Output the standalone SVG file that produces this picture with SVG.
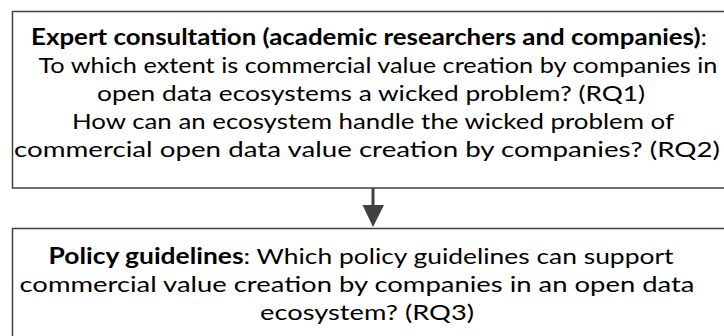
<svg xmlns="http://www.w3.org/2000/svg" width="724" height="336" viewBox="0 0 724 336">
<style>
.box{fill:#ffffff;stroke:#404040;stroke-width:1.5}
.t{font-family:Lato,"Open Sans","Liberation Sans",sans-serif;font-size:22px;fill:#000000;text-anchor:middle}
.b{font-weight:bold}
</style>
<rect width="724" height="336" fill="#ffffff"/>
<g id="expert">
<rect class="box" x="12.5" y="11.5" width="760" height="176.5"/>
<text class="t" x="369" y="45" textLength="676" lengthAdjust="spacingAndGlyphs"><tspan class="b">Expert consultation (academic researchers and companies)</tspan>:</text>
<text class="t" x="378" y="73" textLength="679" lengthAdjust="spacingAndGlyphs">To which extent is commercial value creation by companies in</text>
<text class="t" x="371" y="101" textLength="548" lengthAdjust="spacingAndGlyphs">open data ecosystems a wicked problem? (RQ1)</text>
<text class="t" x="373" y="129" textLength="602" lengthAdjust="spacingAndGlyphs">How can an ecosystem handle the wicked problem of</text>
<text class="t" x="367" y="157" textLength="706" lengthAdjust="spacingAndGlyphs">commercial open data value creation by companies? (RQ2)</text>
</g>
<g id="connectors">
<line x1="373" y1="188" x2="373" y2="207" stroke="#404040" stroke-width="3"/>
<polygon points="362.5,205 384,205 373,227" fill="#404040"/>
</g>
<g id="policy">
<rect class="box" x="12.5" y="228.5" width="760" height="200"/>
<text class="t" x="361" y="264" textLength="625" lengthAdjust="spacingAndGlyphs"><tspan class="b">Policy guidelines</tspan>: Which policy guidelines can support</text>
<text class="t" x="357" y="292" textLength="675" lengthAdjust="spacingAndGlyphs">commercial value creation by companies in an open data</text>
<text class="t" x="367" y="320" textLength="214" lengthAdjust="spacingAndGlyphs">ecosystem? (RQ3)</text>
</g>
</svg>
